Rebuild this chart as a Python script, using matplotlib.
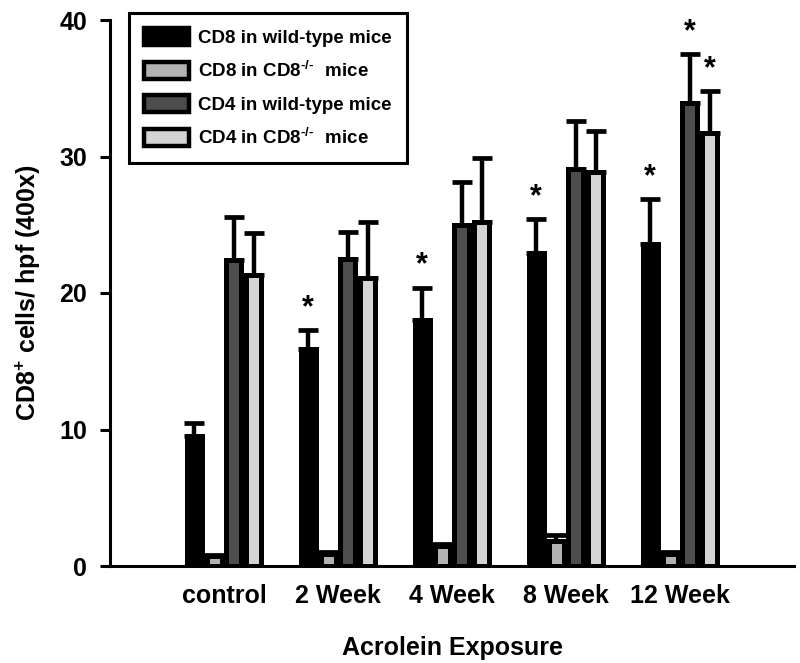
import numpy as np
import matplotlib.pyplot as plt

plt.rcParams['font.family'] = ['Liberation Sans', 'DejaVu Sans']
plt.rcParams['font.weight'] = 'bold'
plt.rcParams['mathtext.fontset'] = 'custom'
plt.rcParams['mathtext.rm'] = 'Liberation Sans:bold'
plt.rcParams['mathtext.bf'] = 'Liberation Sans:bold'
plt.rcParams['mathtext.default'] = 'bf'

groups = ['control', '2 Week', '4 Week', '8 Week', '12 Week']
series = ['CD8 in wild-type mice', r'CD8 in CD8$^{\text{-/-}}\ $ mice',
          'CD4 in wild-type mice', r'CD4 in CD8$^{\text{-/-}}\ $ mice']
colors = ['#000000', '#b2b2b2', '#4d4d4d', '#d4d4d4']

cd8_wt = [9.5, 15.9, 18.0, 22.9, 23.6]
cd8_wt_err = [1.0, 1.4, 2.4, 2.5, 3.3]
cd8_ko = [0.7, 0.9, 1.5, 1.8, 0.9]
cd8_ko_err = [0.1, 0.1, 0.1, 0.5, 0.1]
cd4_wt = [22.4, 22.5, 25.0, 29.1, 33.9]
cd4_wt_err = [3.2, 2.0, 3.1, 3.5, 3.6]
cd4_ko = [21.3, 21.1, 25.2, 28.9, 31.7]
cd4_ko_err = [3.1, 4.1, 4.7, 3.0, 3.1]

# significance marks (*)
cd8_wt_sig = [0, 1, 1, 1, 1]
cd4_wt_sig = [0, 0, 0, 0, 1]
cd4_ko_sig = [0, 0, 0, 0, 1]

values = [cd8_wt, cd8_ko, cd4_wt, cd4_ko]
errors = [cd8_wt_err, cd8_ko_err, cd4_wt_err, cd4_ko_err]
sigs = [cd8_wt_sig, [0] * 5, cd4_wt_sig, cd4_ko_sig]

fig = plt.figure(figsize=(8, 6.63), dpi=100)
ax = fig.add_axes([110 / 800, 1 - 566 / 663, 684 / 800, 546 / 663])

x = np.arange(len(groups))
step = 0.175
width = 0.132
lw = 3.6

for i in range(4):
    xs = x + (i - 1.5) * step
    v = np.array(values[i])
    e = np.array(errors[i])
    ax.errorbar(xs, v, yerr=[np.zeros_like(e), e], fmt='none', ecolor='black',
                elinewidth=3.2, capsize=7, capthick=3.4, zorder=1)
    ax.bar(xs, v, width, color=colors[i], edgecolor='black', linewidth=lw,
           label=series[i], zorder=2)
    for j in range(len(groups)):
        if sigs[i][j]:
            ax.text(xs[j], v[j] + e[j] + 0.5, '*', ha='center', va='bottom',
                    fontsize=22, fontweight='bold')

ax.set_xlim(-1, 5)
ax.set_ylim(0, 40)
ax.set_xticks(x)
ax.set_xticklabels(groups, fontsize=18, fontweight='bold')
ax.set_yticks([0, 10, 20, 30, 40])
ax.tick_params(axis='y', labelsize=18, width=2.2, length=7.5, direction='out', pad=9)
ax.tick_params(axis='x', length=0, pad=13)
for s in ['top', 'right']:
    ax.spines[s].set_visible(False)
for s in ['left', 'bottom']:
    ax.spines[s].set_linewidth(2.2)

ax.set_xlabel('Acrolein Exposure', fontsize=18, fontweight='bold', labelpad=20)
ax.set_ylabel('CD8$^{+}$ cells/ hpf (400x)', fontsize=18, fontweight='bold', labelpad=12)

leg = ax.legend(loc='upper left', bbox_to_anchor=(129 / 800, 1 - 13 / 663),
                bbox_transform=fig.transFigure, borderaxespad=0, fontsize=13.5,
                fancybox=False, edgecolor='black', framealpha=1,
                handlelength=2.4, handleheight=1.0, labelspacing=0.75,
                borderpad=0.8, handletextpad=0.5)
leg.get_frame().set_linewidth(2.2)
for p in leg.get_patches():
    p.set_linewidth(3.2)

fig.savefig('out.png', dpi=100)
